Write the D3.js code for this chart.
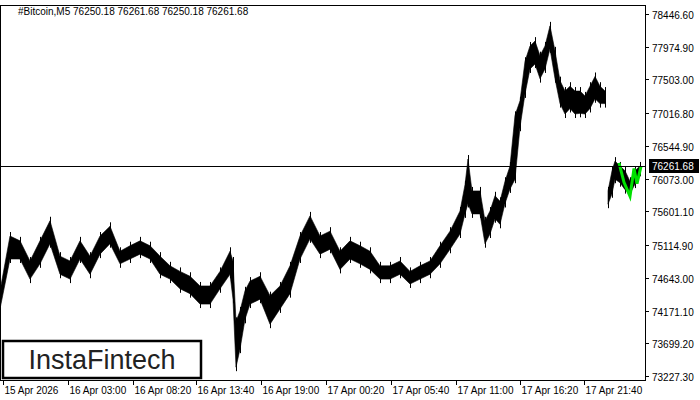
<!DOCTYPE html><html><head><meta charset="utf-8">
<script src="https://cdn.jsdelivr.net/npm/d3@7"></script>
<style>body{margin:0;background:#fff}text{font-family:"Liberation Sans",Arial,sans-serif}</style></head><body>
<svg id="c" width="700" height="400"></svg>
<script>
const barIdx=[0,10,20,30,40,50,60,70,80,90,100,110,120,130,140,150,160,170,180,190,200,210,220,230,233,236,240,245,250,260,270,280,290,300,310,320,330,340,350,360,370,380,390,400,410,420,430,440,450,460,465,468,472,480,485,490,495,500,505,510,515,520,525,530,535,540,545,550,555,560,565,570,575,580,585,590,595,600,605];
const highs=[74470,75260,75190,74900,75190,75480,74970,74900,75190,74970,75260,75400,75040,75120,75190,75120,74970,74830,74750,74680,74540,74540,74750,75040,74900,74030,74180,74470,74610,74680,74400,74540,74830,75260,75550,75260,75330,75040,75190,75120,75040,74830,74830,74900,74750,74830,74900,75120,75330,75620,76000,76370,75910,75910,75480,75620,75840,75760,76050,76270,77000,77210,77780,78000,78070,77860,78000,78290,77930,77500,77350,77420,77350,77350,77280,77420,77560,77420,77350];
const lows=[74180,74900,74900,74610,74830,75120,74680,74610,74900,74680,74970,75120,74830,74900,74970,74900,74680,74610,74470,74400,74250,74250,74470,74680,74320,73340,73600,74030,74250,74320,73960,74180,74400,74900,75190,74970,75040,74750,74900,74830,74750,74610,74610,74680,74540,74610,74680,74830,75040,75260,75550,75700,75550,75550,75120,75260,75480,75400,75700,75910,76050,76800,77280,77640,77710,77500,77640,77930,77500,77140,76990,77070,76990,77000,76990,77070,77210,77140,77140];
const barIdx2=[608,612,615,620,625,630,635,640];
const highs2=[75910,76200,76340,76270,76200,76050,76200,76270];
const lows2=[75690,75840,76050,76000,75900,75840,75980,76150];
const patIdx=[619,624,630,634,637,641];
const patVals=[76300,76020,75820,76220,76000,76250];
const priceTicks=[78446.60,77974.90,77503.00,77016.80,76544.90,76073.00,75601.10,75114.90,74643.00,74171.10,73699.20,73227.30];
const timeIdx=[5,70,135,198,263,328,393,458,522,586];
const timeLabels=["15 Apr 2026","16 Apr 03:00","16 Apr 08:20","16 Apr 13:40","16 Apr 19:00","17 Apr 00:20","17 Apr 05:40","17 Apr 11:00","17 Apr 16:20","17 Apr 21:40"];
const current=76261.68;

const svg=d3.select("#c");
const x=d3.scaleLinear().domain([0,645]).range([0,645]);
const y=d3.scaleLinear().domain([73227.3,78446.6]).range([376,14]);
const W=645,H=380;
svg.append("rect").attr("x",0.5).attr("y",5.5).attr("width",W).attr("height",H-5).attr("fill","none").attr("stroke","#000");
function band(idx,hi,lo){
  const d=idx.map((v,i)=>({x:v,h:hi[i],l:lo[i]}));
  svg.append("path").datum(d).attr("d",d3.area().x(p=>x(p.x)).y0(p=>y(p.l)-1).y1(p=>y(p.h)+1)).attr("fill","#000").attr("stroke","#000").attr("stroke-width",0.6);
  svg.selectAll(null).data(d).enter().append("line").attr("x1",p=>x(p.x)+0.5).attr("x2",p=>x(p.x)+0.5).attr("y1",p=>y(p.h)-3).attr("y2",p=>y(p.l)+3).attr("stroke","#000");
}
band(barIdx,highs,lows);band(barIdx2,highs2,lows2);
svg.append("path").datum(patIdx.map((v,i)=>[v,patVals[i]])).attr("d",d3.line().x(p=>x(p[0])).y(p=>y(p[1]))).attr("fill","none").attr("stroke","#00e000").attr("stroke-width",3);
svg.append("line").attr("x1",0).attr("x2",W).attr("y1",Math.round(y(current))+0.5).attr("y2",Math.round(y(current))+0.5).attr("stroke","#000");
const ra=svg.append("g");
priceTicks.forEach(p=>{const yy=Math.round(y(p))+0.5;
 ra.append("line").attr("x1",W).attr("x2",W+4).attr("y1",yy).attr("y2",yy).attr("stroke","#000");
 ra.append("text").attr("x",W+7).attr("y",yy+4).attr("font-size",10).text(p.toFixed(2));});
const cy=Math.round(y(current));
ra.append("rect").attr("x",W+4).attr("y",cy-7).attr("width",50).attr("height",14).attr("fill","#000");
ra.append("text").attr("x",W+7).attr("y",cy+4).attr("font-size",10).attr("fill","#fff").text(current.toFixed(2));
timeIdx.forEach((t,i)=>{const xx=Math.round(x(t))-1.5;
 svg.append("line").attr("x1",xx).attr("x2",xx).attr("y1",H).attr("y2",H+5).attr("stroke","#000");
 svg.append("text").attr("x",xx+1).attr("y",H+14).attr("font-size",10).text(timeLabels[i]);});
svg.append("text").attr("x",18).attr("y",15).attr("font-size",10).text("#Bitcoin,M5  76250.18 76261.68 76250.18 76261.68");
svg.append("rect").attr("x",3).attr("y",341).attr("width",198).attr("height",37).attr("fill","#fff").attr("stroke","#000").attr("stroke-width",2.5);
svg.append("text").attr("x",102).attr("y",369).attr("text-anchor","middle").attr("font-size",27).attr("font-family","Lato, 'Open Sans', sans-serif").attr("fill","#222").text("InstaFintech");
</script></body></html>
